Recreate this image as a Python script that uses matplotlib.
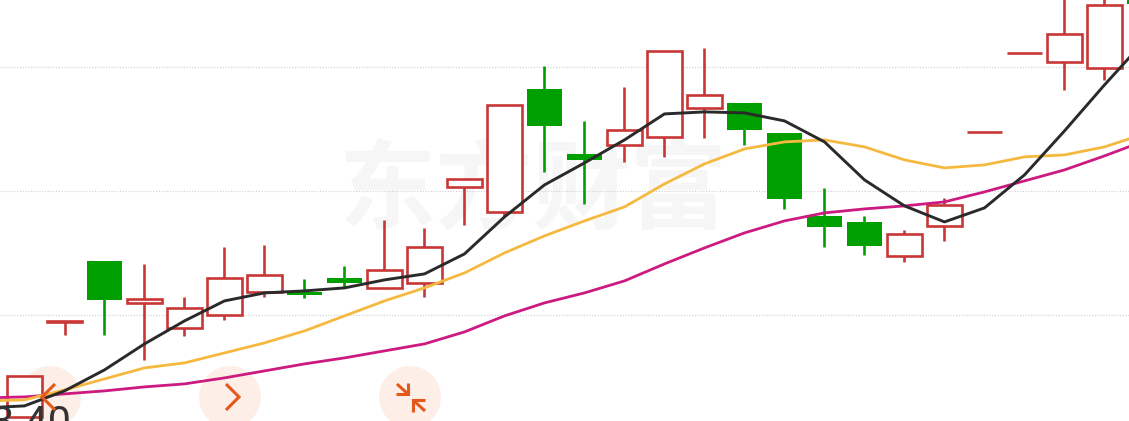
import matplotlib
matplotlib.use('Agg')
import matplotlib.pyplot as plt
from matplotlib.patches import Ellipse, Rectangle

box_top = [376, 321, 261, 299, 308, 278, 275, 292, 278, 270, 247, 179, 105, 89, 154, 130, 51, 95, 103, 133, 216, 222, 234, 205, 132, 53.5, 34, 5, -30]
box_bot = [417, 322, 300, 303, 328, 315, 292, 295, 283, 288, 283, 187, 212, 126, 160, 145, 137, 108, 130, 199, 227, 246, 256, 226, 132, 53.5, 62, 68, 4]
high = [376, 321, 261, 264, 297, 247, 245, 279, 266, 220, 228, 179, 105, 66, 121, 87, 51, 48, 103, 133, 188, 216, 230, 198, 132, 53.5, -10, -10, -30]
low = [417, 335, 335, 360, 336, 320, 297, 298, 288, 288, 297, 225, 216, 172, 204, 162, 157, 138, 145, 209, 247, 255, 262, 241, 132, 53.5, 90, 80, 4]
up = [1, 1, 0, 1, 1, 1, 1, 0, 0, 1, 1, 1, 1, 0, 0, 1, 1, 1, 0, 0, 0, 0, 1, 1, 1, 1, 1, 1, 0]

ma_days = [-1, 0, 1, 2, 3, 4, 5, 6, 7, 8, 9, 10, 11, 12, 13, 14, 15, 16, 17, 18, 19, 20, 21, 22, 23, 24, 25, 26, 27, 28]
ma_black = [408, 406, 391, 370, 344, 321, 301, 293, 291, 288, 280, 274, 254, 217, 185, 163, 140, 114, 112, 113, 121, 142, 180, 206, 222, 208, 175, 131, 85, 41]
ma_yellow = [401, 400, 390, 379, 368, 363, 353, 343, 331, 316, 301, 288, 273, 253, 236, 221, 207, 184, 164, 149, 142, 140, 147, 160, 168, 165, 157, 155, 147, 134]
ma_pink = [398, 397, 394, 391, 387, 384, 378, 371, 364, 358, 351, 344, 332, 316, 303, 293, 281, 264, 248, 233, 221, 213, 209, 206, 202, 192, 181, 170, 156, 141]

grid_levels = [67, 191, 315]
price_label = '3.40'
watermark = '东方财富'

RED = '#c83636'
GREEN = '#009f00'
ORANGE = '#e4581c'

fig = plt.figure(figsize=(11.29, 4.21), dpi=100)
ax = fig.add_axes([0, 0, 1, 1])
ax.set_xlim(-0.6125, 27.6125)
ax.set_ylim(421.1, 0.1)
ax.axis('off')

ax.text(12.72, 193, watermark, color='#f6f6f6', fontsize=70, fontweight='bold', ha='center', va='center',
        family=['Noto Sans CJK SC', 'DejaVu Sans'], zorder=1)

for g in grid_levels:
    ax.axhline(g, color='#cfcfcf', lw=0.8, ls=(0, (1, 1.5)), zorder=1)


def to_fig(x, y):
    return x / 1129, 1 - y / 421


# buttons sit behind the candles, their icons on top, placed in pixels
for cx in [50, 230, 410]:
    ax.add_patch(Ellipse(to_fig(cx, 397), 62 / 1129, 62 / 421, transform=fig.transFigure,
                         fc='#fbdccb', ec='none', alpha=0.45, zorder=2))

# candles
for i in range(len(up)):
    if up[i]:
        ax.plot([i, i], [high[i], box_top[i]], color=RED, lw=1.9, solid_capstyle='butt', zorder=3)
        ax.plot([i, i], [box_bot[i], low[i]], color=RED, lw=1.9, solid_capstyle='butt', zorder=3)
        ax.add_patch(Rectangle((i - 0.4375, box_top[i]), 0.875, box_bot[i] - box_top[i],
                               fc='white', ec=RED, lw=1.9, zorder=3))
    else:
        ax.plot([i, i], [high[i], low[i]], color=GREEN, lw=1.9, solid_capstyle='butt', zorder=3)
        ax.add_patch(Rectangle((i - 0.43, box_top[i]), 0.86, box_bot[i] - box_top[i],
                               fc=GREEN, ec='none', zorder=3))

ax.plot(ma_days, ma_pink, color='#cc1a80', lw=2.0, zorder=4)
ax.plot(ma_days, ma_yellow, color='#f6b93f', lw=2.0, zorder=5)
ax.plot(ma_days, ma_black, color='#2a2a2a', lw=2.1, zorder=6)

ax.text(-0.87, 436, price_label, color='#333333', fontsize=30, ha='left', va='baseline',
        family='Roboto', zorder=7)


def stroke(*pts):
    xs, ys = zip(*[to_fig(*p) for p in pts])
    ax.plot(xs, ys, color=ORANGE, lw=2.2, transform=fig.transFigure, zorder=9,
            solid_capstyle='butt', solid_joinstyle='miter')


stroke((55, 384), (42, 397), (55, 410))
stroke((226, 384), (239, 397), (226, 410))
stroke((397, 384), (408, 394))
stroke((396, 394), (408, 394), (408, 383))
stroke((425, 411), (413, 400))
stroke((425, 400), (413, 400), (413, 412))

fig.savefig('out.png', dpi=100)
